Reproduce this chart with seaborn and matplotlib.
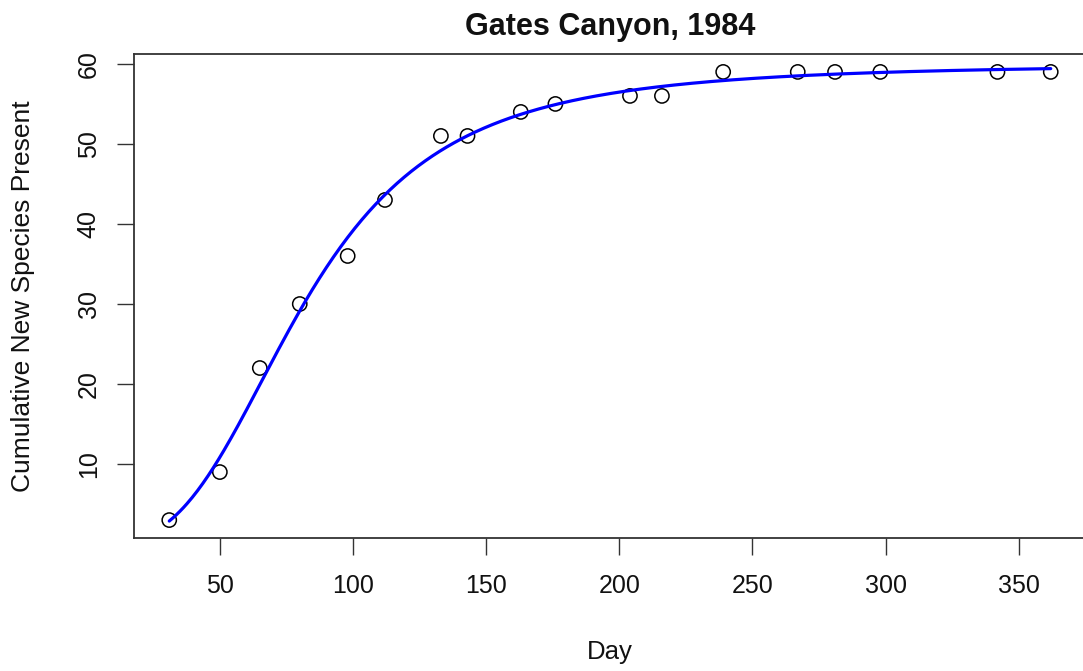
import numpy as np
import pandas as pd
import matplotlib
matplotlib.use("Agg")
import matplotlib.pyplot as plt
import seaborn as sns

# Survey days and cumulative count of new species observed
day = [31, 50, 65, 80, 98, 112, 133, 143, 163, 176, 204, 216, 239, 267, 281, 298, 342, 362]
species = [3, 9, 22, 30, 36, 43, 51, 51, 54, 55, 56, 56, 59, 59, 59, 59, 59, 59]

x_ticks = [50, 100, 150, 200, 250, 300, 350]
y_ticks = [10, 20, 30, 40, 50, 60]

title = "Gates Canyon, 1984"
x_label = "Day"
y_label = "Cumulative New Species Present"


def loglogistic(p, x):
    asym, slope, log_mid = p
    return asym / (1.0 + np.exp(-slope * (np.log(x) - log_mid)))


def fit_loglogistic(x, y, p0, n_iter=200):
    # Levenberg-Marquardt least squares for the three-parameter log-logistic
    p = np.array(p0, dtype=float)
    lam = 1e-3
    sse = np.sum((y - loglogistic(p, x)) ** 2)
    for _ in range(n_iter):
        r = y - loglogistic(p, x)
        J = np.empty((len(x), len(p)))
        for j in range(len(p)):
            h = 1e-6 * max(1.0, abs(p[j]))
            dp = p.copy()
            dp[j] += h
            J[:, j] = (loglogistic(dp, x) - loglogistic(p, x)) / h
        A = J.T @ J
        g = J.T @ r
        step = np.linalg.solve(A + lam * np.diag(np.diag(A)), g)
        p_new = p + step
        sse_new = np.sum((y - loglogistic(p_new, x)) ** 2)
        if sse_new < sse:
            p, sse = p_new, sse_new
            lam *= 0.3
        else:
            lam *= 10
        if np.linalg.norm(step) < 1e-10:
            break
    return p


xd = np.array(day, dtype=float)
yd = np.array(species, dtype=float)
params = fit_loglogistic(xd, yd, [60.0, 3.0, np.log(80.0)])

grid = np.linspace(xd.min(), xd.max(), 500)
obs = pd.DataFrame({"Day": xd, "Species": yd})
fit = pd.DataFrame({"Day": grid, "Species": loglogistic(params, grid)})

sns.set_style("white")
plt.rcParams["font.family"] = ["Liberation Sans", "DejaVu Sans"]

fig = plt.figure(figsize=(10.83, 6.71), dpi=100)
# plot region runs past the right edge of the canvas
ax = fig.add_axes([134 / 1083, 1 - 538 / 671, 952 / 1083, 484 / 671])

sns.scatterplot(data=obs, x="Day", y="Species", ax=ax, marker="o", s=105,
                facecolor="none", edgecolor="black", linewidth=1.1, zorder=2)
sns.lineplot(data=fit, x="Day", y="Species", ax=ax, color="#0000ff",
             linewidth=2.3, zorder=3)

span_x = xd.max() - xd.min()
span_y = yd.max() - yd.min()
ax.set_xlim(xd.min() - 0.04 * span_x, xd.max() + 0.04 * span_x)
ax.set_ylim(yd.min() - 0.04 * span_y, yd.max() + 0.04 * span_y)

ax.set_xticks(x_ticks)
ax.set_yticks(y_ticks)
ax.tick_params(axis="both", direction="out", length=12, width=1.0,
               color="#333333", labelsize=18, labelcolor="#111111")
ax.tick_params(axis="x", pad=14, bottom=True)
ax.tick_params(axis="y", pad=12, left=True)
for lbl in ax.get_yticklabels():
    lbl.set_rotation(90)
    lbl.set_va("center")

for sp in ax.spines.values():
    sp.set_visible(True)
    sp.set_color("#333333")
    sp.set_linewidth(1.3)

ax.set_xlabel(x_label, fontsize=18.5, color="#111111", labelpad=30)
ax.set_ylabel(y_label, fontsize=19, color="#111111", labelpad=30)
ax.set_title(title, fontsize=22, fontweight="bold", color="#111111", pad=14)

fig.savefig("out.png", dpi=100)
